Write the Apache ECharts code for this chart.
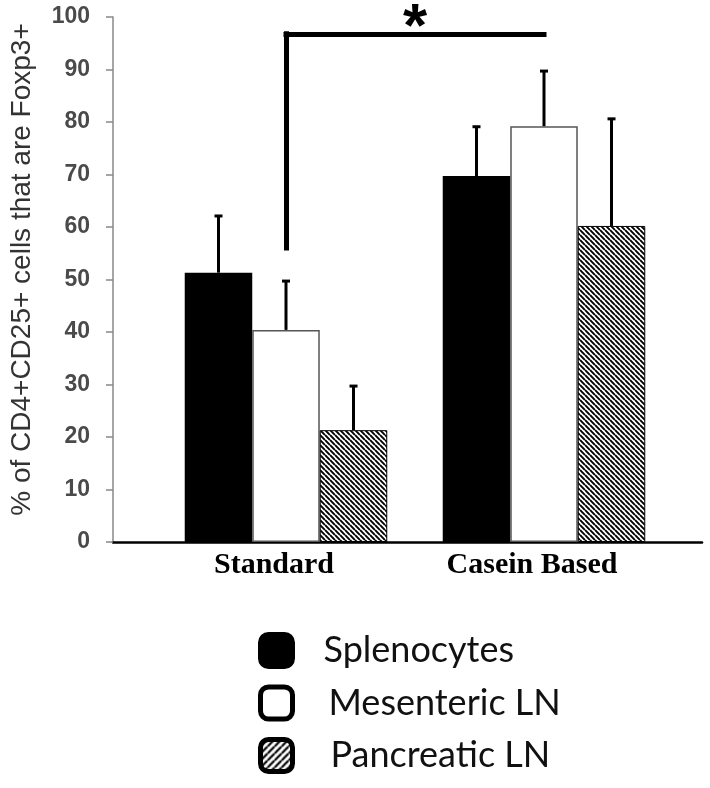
<!DOCTYPE html>
<html>
<head>
<meta charset="utf-8">
<script src="https://cdn.jsdelivr.net/npm/echarts@6/dist/echarts.min.js"></script>
<style>
html,body{margin:0;padding:0;background:#fff;}
#chart{width:710px;height:788px;}
</style>
</head>
<body>
<div id="chart"></div>
<script>
// ---- data ----
const categories = ['Standard', 'Casein Based'];
const seriesNames = ['Splenocytes', 'Mesenteric LN', 'Pancreatic LN'];
const splenocytes = [51.3, 69.7];
const mesenteric = [40.4, 79.2];
const pancreatic = [21.3, 60.2];
const splenocytesErr = [10.8, 9.4];
const mesentericErr = [9.3, 10.5];
const pancreaticErr = [8.4, 20.4];
const yTicks = [0, 10, 20, 30, 40, 50, 60, 70, 80, 90, 100];
const bracketBottom = 56;
const bracketTop = 96.8;
const yTitle = '% of CD4+CD25+ cells that are Foxp3+';

// ---- hatch patterns ----
function makeHatch(dir, s, lw) {
  const c = document.createElement('canvas');
  c.width = s; c.height = s;
  const ctx = c.getContext('2d');
  ctx.fillStyle = '#fff';
  ctx.fillRect(0, 0, s, s);
  ctx.strokeStyle = '#000';
  ctx.lineWidth = lw;
  ctx.beginPath();
  if (dir === 'down') {
    [-s, 0, s].forEach(cc => { ctx.moveTo(0, cc); ctx.lineTo(s, cc + s); });
  } else {
    [0, s, 2 * s].forEach(cc => { ctx.moveTo(0, cc); ctx.lineTo(s, cc - s); });
  }
  ctx.stroke();
  return c;
}
const barHatch = { image: makeHatch('down', 5, 1.9), repeat: 'repeat' };
const legendHatch = { image: makeHatch('up', 7, 2.2), repeat: 'repeat' };

const gapRatio = 0.215;
const values = [splenocytes, mesenteric, pancreatic];
const errs = [splenocytesErr, mesentericErr, pancreaticErr];

function errSeries(idx) {
  return {
    type: 'custom',
    name: seriesNames[idx] + ' err',
    xAxisIndex: 1, yAxisIndex: 1,
    z: 5,
    silent: true,
    encode: { x: 0, y: [1, 2] },
    data: categories.map((c, i) => [i, values[idx][i], values[idx][i] + errs[idx][i]]),
    renderItem: function (params, api) {
      const base = api.coord([api.value(0), api.value(1)]);
      const top = api.coord([api.value(0), api.value(2)]);
      const catW = api.size([1, 0])[0];
      const bw = catW * (1 - gapRatio) / 3;
      const x = base[0] + (idx - 1) * bw;
      return {
        type: 'group',
        children: [
          { type: 'line', shape: { x1: x, y1: base[1], x2: x, y2: top[1] }, style: { stroke: '#000', lineWidth: 3 } },
          { type: 'line', shape: { x1: x - 4, y1: top[1], x2: x + 4, y2: top[1] }, style: { stroke: '#000', lineWidth: 3 } }
        ]
      };
    }
  };
}

const chart = echarts.init(document.getElementById('chart'), null, { renderer: 'canvas' });
chart.setOption({
  animation: false,
  backgroundColor: '#fff',
  grid: [
    { left: 105, right: 8, top: 17, bottom: 246, containLabel: false },
    { left: 157, width: 516, top: 17, bottom: 246, containLabel: false }
  ],
  xAxis: [
    { gridIndex: 0, type: 'value', min: 0, max: 1,
      axisLine: { show: true, lineStyle: { color: '#000', width: 2.5 } },
      axisTick: { show: false }, axisLabel: { show: false }, splitLine: { show: false } },
    { gridIndex: 1, type: 'category', data: categories,
      axisLine: { show: false }, axisTick: { show: false }, splitLine: { show: false },
      axisLabel: { margin: 8, fontFamily: 'Liberation Serif', fontWeight: 'bold', fontSize: 30, color: '#000',
        padding: [0, 24, 0, 0] } }
  ],
  yAxis: [
    { gridIndex: 0, type: 'value', min: 0, max: 100, interval: 10,
      name: yTitle, nameLocation: 'middle', nameGap: 77,
      nameTextStyle: { fontFamily: 'Liberation Sans', fontSize: 28, color: '#333', padding: [0, 0, 0, 20] },
      axisLine: { show: true, lineStyle: { color: '#888', width: 1.5 } },
      axisTick: { show: true, length: 7, lineStyle: { color: '#888', width: 1.5 } },
      axisLabel: { margin: 23, fontFamily: 'Liberation Sans', fontWeight: 'bold', fontSize: 23, color: '#4a4a4a',
        formatter: v => yTicks.indexOf(v) >= 0 ? String(v) : '' },
      splitLine: { show: false } },
    { gridIndex: 1, type: 'value', min: 0, max: 100, show: false }
  ],
  legend: {
    orient: 'vertical', left: 258, top: 632, height: 170, padding: 0,
    itemWidth: 32, itemHeight: 32, itemGap: 15.5,
    icon: 'roundRect',
    textStyle: { fontFamily: 'Lato', fontSize: 36, lineHeight: 36, color: '#111' },
    data: [
      { name: seriesNames[0], itemStyle: { color: '#000', borderColor: '#000', borderWidth: 5 },
        textStyle: { padding: [0, 0, 0, 26] } },
      { name: seriesNames[1], itemStyle: { color: '#fff', borderColor: '#000', borderWidth: 5 },
        textStyle: { padding: [0, 0, 0, 31] } },
      { name: seriesNames[2], itemStyle: { color: legendHatch, borderColor: '#000', borderWidth: 5 },
        textStyle: { padding: [0, 0, 0, 33] } }
    ]
  },
  series: [
    { type: 'bar', name: seriesNames[0], xAxisIndex: 1, yAxisIndex: 1, data: splenocytes,
      barGap: '0%', barCategoryGap: (gapRatio * 100) + '%',
      itemStyle: { color: '#000', borderColor: '#000', borderWidth: 0 } },
    { type: 'bar', name: seriesNames[1], xAxisIndex: 1, yAxisIndex: 1, data: mesenteric,
      barGap: '0%', barCategoryGap: (gapRatio * 100) + '%',
      itemStyle: { color: '#fff', borderColor: '#555', borderWidth: 1.5 },
      markLine: {
        silent: true, symbol: 'none', animation: false,
        lineStyle: { color: '#000', width: 5, type: 'solid', cap: 'square' },
        label: { show: false },
        data: [
          [{ coord: [0, bracketBottom] }, { coord: [0, bracketTop] }],
          [{ coord: [0, bracketTop], label: { show: true, formatter: '*', position: 'insideMiddleTop',
              fontFamily: 'Liberation Sans', fontWeight: 'bold', fontSize: 62, color: '#000', distance: -26 } },
           { coord: [1, bracketTop] }]
        ]
      } },
    { type: 'bar', name: seriesNames[2], xAxisIndex: 1, yAxisIndex: 1, data: pancreatic,
      barGap: '0%', barCategoryGap: (gapRatio * 100) + '%',
      itemStyle: { color: barHatch, borderColor: '#000', borderWidth: 1 } },
    errSeries(0), errSeries(1), errSeries(2)
  ]
});
</script>
</body>
</html>
